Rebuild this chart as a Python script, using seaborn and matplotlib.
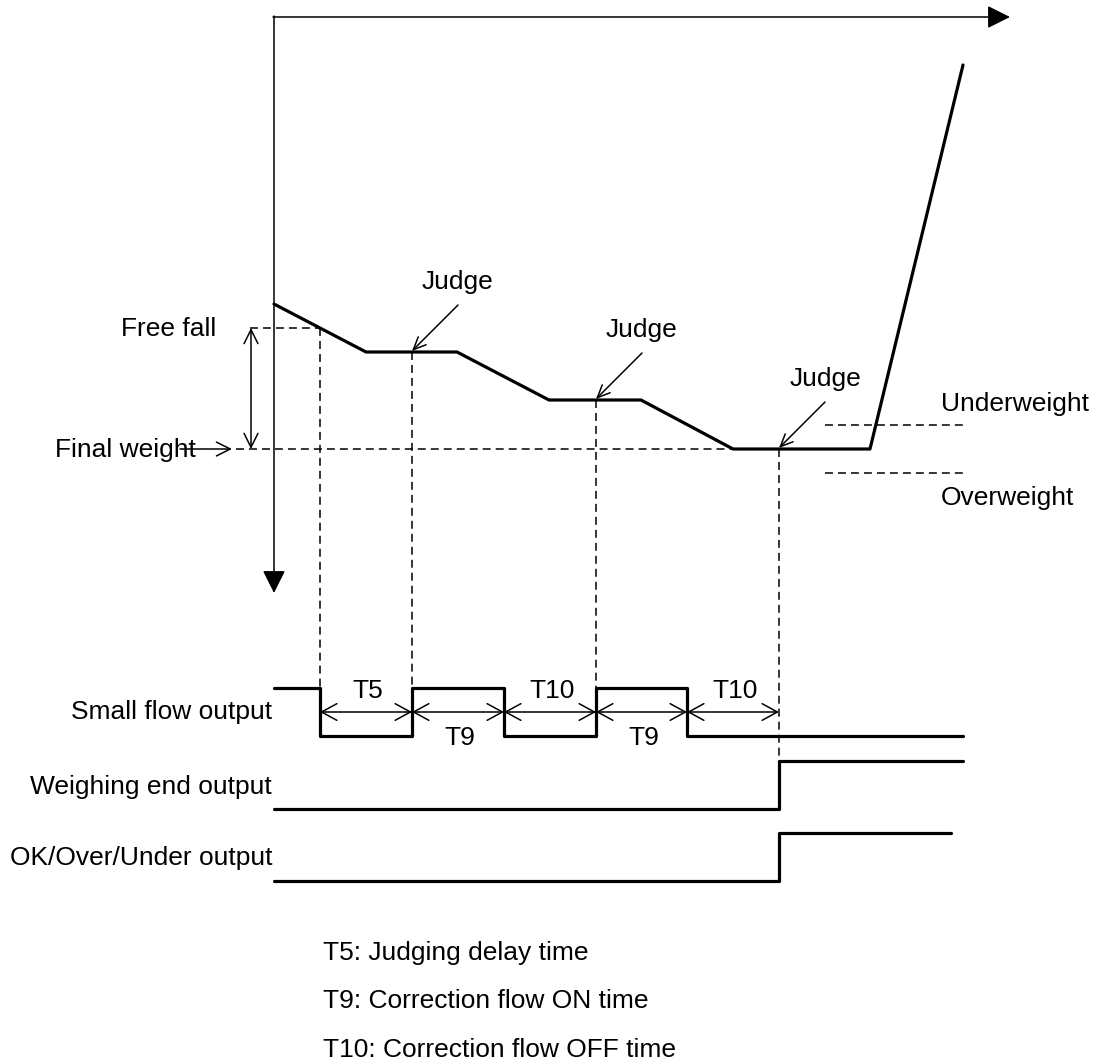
# -*- coding: utf-8 -*-
"""
Weighing sequence timing chart (correction flow / judge)
"""

import matplotlib
matplotlib.use("Agg")
import matplotlib.pyplot as plt
import seaborn as sns
import pandas as pd

sns.set_theme(style="white")
plt.rcParams['font.family'] = ['Liberation Sans', 'DejaVu Sans']
plt.rcParams['font.size'] = 19
plt.rcParams['text.color'] = 'black'

#%% Data (drawing units = pixels of the chart)
# weight curve: time points and weight levels
curve_t = [274, 366, 457, 549, 641, 733, 870, 963]
curve_w = [304, 352, 352, 400, 400, 449, 449, 65]

free_fall_level = 328
free_fall_t = 320
final_level = 449
under_level = 425
over_level = 473

# judge instants and the weight at which the judge happens
judge_t = [412, 596, 779]
judge_w = [352, 400, 449]

# output signals (steps)
small_t = [274, 320, 412, 504, 596, 687, 963]
small_state = [1, 0, 1, 0, 1, 0, 0]
end_t = [274, 779, 963]
end_state = [0, 1, 1]
ok_t = [274, 779, 951]
ok_state = [0, 1, 1]

# levels (high, low) for each output row
small_lv = (688, 736)
end_lv = (761, 809)
ok_lv = (833, 881)

# timer intervals
timer_edges = [320, 412, 504, 596, 687, 779]
timer_names = ["T5", "T9", "T10", "T9", "T10"]
timer_above = [True, False, True, False, True]

row_labels = ["Small flow output", "Weighing end output", "OK/Over/Under output"]
notes = ["T5: Judging delay time",
         "T9: Correction flow ON time",
         "T10: Correction flow OFF time"]

#%% Figure
fig = plt.figure(figsize=(10.96, 10.63), dpi=100)
ax = fig.add_axes([0, 0, 1, 1])
ax.set_xlim(0, 1096)
ax.set_ylim(1063, 0)
ax.axis("off")

thick = 2.3
thin = 1.1
dash = (5.2, 3.3)

# axes arrows
ax.annotate("", xy=(1010, 17), xytext=(273, 17),
            arrowprops=dict(arrowstyle="-|>,head_length=14,head_width=7",
                            mutation_scale=1, lw=thin, color="black",
                            shrinkA=0, shrinkB=0))
ax.annotate("", xy=(274, 593), xytext=(274, 16),
            arrowprops=dict(arrowstyle="-|>,head_length=14,head_width=7",
                            mutation_scale=1, lw=thin, color="black",
                            shrinkA=0, shrinkB=0))

# weight curve
curve = pd.DataFrame({"t": curve_t, "w": curve_w})
sns.lineplot(data=curve, x="t", y="w", sort=False, estimator=None,
             color="black", lw=thick, ax=ax)

# dashed reference lines
ax.plot([250, free_fall_t], [free_fall_level] * 2, color="black", lw=thin, dashes=dash)
ax.plot([236, curve_t[5]], [final_level] * 2, color="black", lw=thin, dashes=dash)
ax.plot([825, 966], [under_level] * 2, color="black", lw=thin, dashes=dash)
ax.plot([825, 966], [over_level] * 2, color="black", lw=thin, dashes=dash)
ax.plot([free_fall_t] * 2, [free_fall_level, small_lv[0]], color="black", lw=thin, dashes=dash)
for t, w in zip(judge_t, judge_w):
    bottom = end_lv[0] if t == judge_t[-1] else small_lv[0]
    ax.plot([t, t], [w, bottom], color="black", lw=thin, dashes=dash)

# judge labels
for t, w in zip(judge_t, judge_w):
    ax.annotate("", xy=(t, w - 1), xytext=(t + 46, w - 47),
                arrowprops=dict(arrowstyle="->,head_length=9,head_width=4",
                                mutation_scale=1, lw=thin, color="black",
                                shrinkA=0, shrinkB=0))
    ax.text(t + 46, w - 70, "Judge", ha="center", va="center")

# free fall / final weight
ax.annotate("", xy=(251, free_fall_level), xytext=(251, final_level),
            arrowprops=dict(arrowstyle="<->,head_length=10,head_width=5",
                            mutation_scale=1, lw=thin, color="black",
                            shrinkA=0, shrinkB=0))
ax.annotate("", xy=(232, final_level), xytext=(180, final_level),
            arrowprops=dict(arrowstyle="->,head_length=10,head_width=5",
                            mutation_scale=1, lw=thin, color="black",
                            shrinkA=0, shrinkB=0))
ax.text(216, 329, "Free fall", ha="right", va="center")
ax.text(55, 450, "Final weight", ha="left", va="center")
ax.text(941, 404, "Underweight", ha="left", va="center")
ax.text(941, 498, "Overweight", ha="left", va="center")

# output signals
for ts, states, lv in [(small_t, small_state, small_lv),
                       (end_t, end_state, end_lv),
                       (ok_t, ok_state, ok_lv)]:
    sig = pd.DataFrame({"t": ts, "y": [lv[0] if s else lv[1] for s in states]})
    sns.lineplot(data=sig, x="t", y="y", estimator=None, drawstyle="steps-post",
                 color="black", lw=thick, ax=ax)

# timer dimension arrows
arrow_y = (small_lv[0] + small_lv[1]) / 2
for i, name in enumerate(timer_names):
    a, b = timer_edges[i], timer_edges[i + 1]
    ax.annotate("", xy=(b, arrow_y), xytext=(a, arrow_y),
                arrowprops=dict(arrowstyle="<->,head_length=11,head_width=6",
                                mutation_scale=1, lw=thin, color="black",
                                shrinkA=0, shrinkB=0))
    ty = arrow_y - 21 if timer_above[i] else arrow_y + 26
    ax.text((a + b) / 2 + 2, ty, name, ha="center", va="center")

# row labels
for label, lv in zip(row_labels, [arrow_y, 787, 858]):
    ax.text(272, lv, label, ha="right", va="center")

# notes
for i, note in enumerate(notes):
    ax.text(323, 953 + 48.5 * i, note, ha="left", va="center")

ax.set_xlabel("")
ax.set_ylabel("")
fig.savefig("out.png", dpi=100)
